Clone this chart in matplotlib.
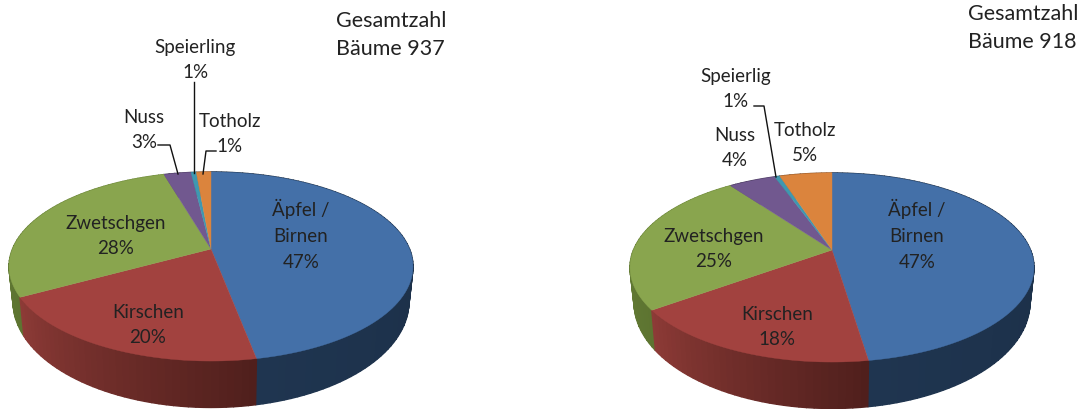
import numpy as np
import matplotlib
matplotlib.use('Agg')
import matplotlib.pyplot as plt

plt.rcParams['font.family'] = ['Lato', 'DejaVu Sans']

# slice sizes in percent, clockwise from the top
left_values = [47.0, 20.0, 28.5, 2.6, 0.5, 1.4]
right_values = [47.6, 17.4, 25.0, 4.5, 0.5, 5.0]
left_labels = ['Äpfel /\nBirnen\n47%', 'Kirschen\n20%', 'Zwetschgen\n28%',
               'Nuss\n3%', 'Speierling\n1%', 'Totholz\n1%']
right_labels = ['Äpfel /\nBirnen\n47%', 'Kirschen\n18%', 'Zwetschgen\n25%',
                'Nuss\n4%', 'Speierlig\n1%', 'Totholz\n5%']
left_total = 'Gesamtzahl\nBäume 937'
right_total = 'Gesamtzahl\nBäume 918'

colors = ['#4470a8', '#a2423f', '#89a54e', '#71588f', '#3f98b0', '#db843d']
side_light = ['#1f3550', '#8e3b37', '#6f8a3c', '#4a3a60', '#2a6a7a', '#96592a']
side_dark = ['#18293f', '#4f1f1c', '#5d7431', '#3a2d4c', '#1f5260', '#7a4820']


def rim(frac, cx, cy, down=False):
    # perspective view of a circle, the apex sits above the ellipse centre
    t = 2 * np.pi * np.asarray(frac)
    u, v = np.sin(t), np.cos(t)
    w = 1 + 0.185 * v
    x, y = 198.5 * u / w, 91.3 * v / w
    if down:
        return cx + 0.98 * x, cy - 1.12 * y + 33
    return cx + x, cy - y


def draw_pie(ax, values, cx, cy):
    edges = np.cumsum([0] + values) / 100
    # sides first, back to front, then the top
    strips = []
    for i, (a, b) in enumerate(zip(edges[:-1], edges[1:])):
        n = max(int((b - a) * 200), 1)
        steps = np.linspace(a, b, n + 1)
        light = np.array(matplotlib.colors.to_rgb(side_light[i]))
        dark = np.array(matplotlib.colors.to_rgb(side_dark[i]))
        for j in range(n):
            f = np.linspace(steps[j], steps[j + 1], 4)
            xt, yt = rim(f, cx, cy)
            xb, yb = rim(f, cx, cy, down=True)
            mix = (j + 0.5) / n
            col = dark * (1 - mix) + light * mix
            strips.append((np.cos(2 * np.pi * f[1]),
                           np.r_[xt, xb[::-1]], np.r_[yt, yb[::-1]], col))
    for _, x, y, col in sorted(strips, key=lambda s: -s[0]):
        ax.fill(x, y, color=col, lw=1.0, zorder=2)
    for i, (a, b) in enumerate(zip(edges[:-1], edges[1:])):
        x, y = rim(np.linspace(a, b, 80), cx, cy)
        ax.fill(np.r_[cx, x], np.r_[cy, y], color=colors[i], lw=0.3, zorder=3)


fig = plt.figure(figsize=(10.81, 4.1), dpi=100)
ax = fig.add_axes([0, 0, 1, 1])
ax.set_xlim(0, 1081)
ax.set_ylim(410, 0)
ax.axis('off')

draw_pie(ax, left_values, 211, 250)
draw_pie(ax, right_values, 832, 251)

left_pos = [(301, 235), (148, 325), (116, 236), (144, 130), (195, 60), (230, 134)]
right_pos = [(917, 235), (777, 327), (714, 249), (735, 148), (736, 89), (805, 143)]
for labels, pos in [(left_labels, left_pos), (right_labels, right_pos)]:
    for lab, (x, y) in zip(labels, pos):
        ax.text(x, y, lab, ha='center', va='center', fontsize=13.5,
                color='#222222', linespacing=1.62, zorder=5)

ax.text(336, 35, left_total, ha='left', va='center', fontsize=15.5,
        color='#222222', linespacing=1.47)
ax.text(968, 28, right_total, ha='left', va='center', fontsize=15.5,
        color='#222222', linespacing=1.47)

# leader lines
leaders = [([194, 194], [83, 174]),
           ([158, 170, 178], [146, 146, 175]),
           ([203, 206, 216], [175, 152, 152]),
           ([754, 764, 776], [107, 107, 178])]
for x, y in leaders:
    ax.plot(x, y, color='#111111', lw=1.0, zorder=4)

fig.savefig('out.png', dpi=100)
plt.close(fig)
